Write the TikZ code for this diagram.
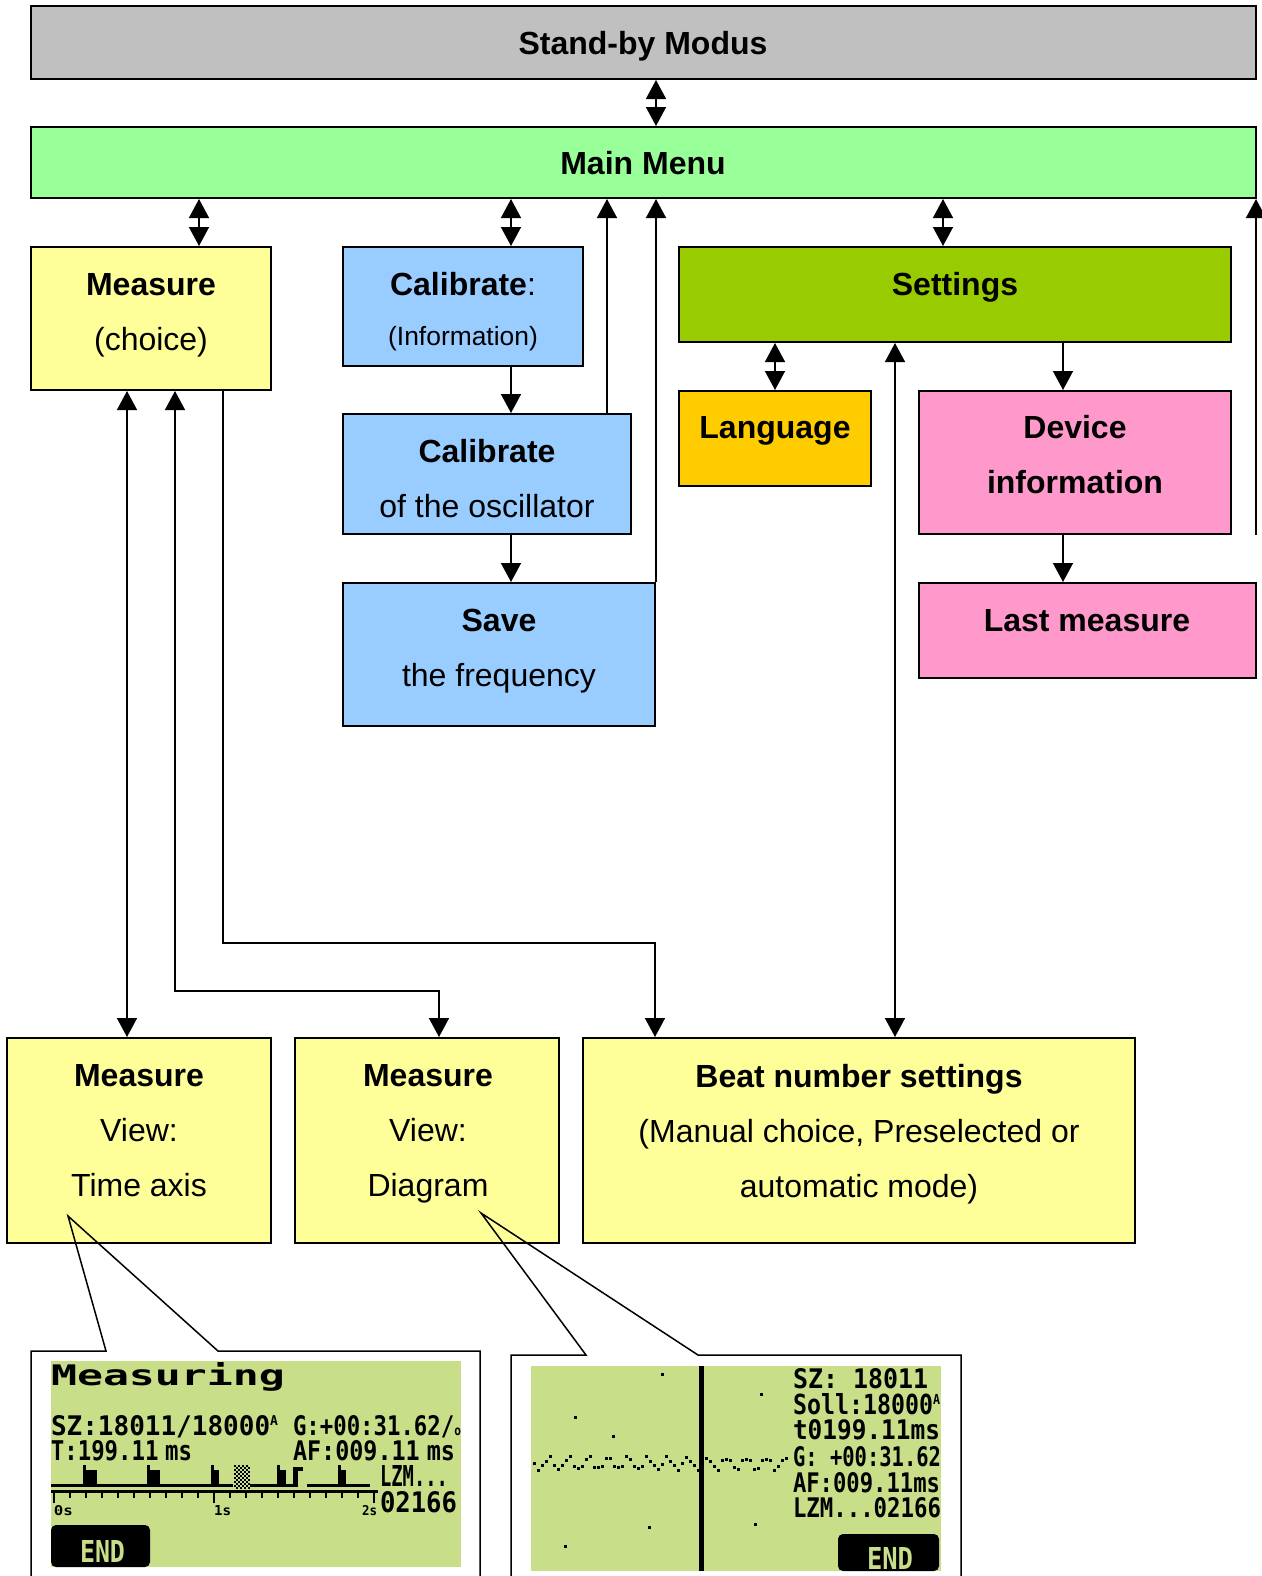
\documentclass[tikz,border=0pt]{standalone}
\usepackage{fontspec}
\setmainfont{Liberation Sans}
\newfontfamily\lcdfont{DejaVu Sans Mono}
\usepackage{graphicx}
\usetikzlibrary{arrows.meta,fit}

\definecolor{sbgrey}{HTML}{C0C0C0}
\definecolor{mmgreen}{HTML}{99FF99}
\definecolor{measyel}{HTML}{FFFF99}
\definecolor{calblue}{HTML}{99CCFF}
\definecolor{setgreen}{HTML}{99CC00}
\definecolor{langorange}{HTML}{FFCC00}
\definecolor{devpink}{HTML}{FF99CC}
\definecolor{lcdgreen}{HTML}{C8DE88}

\newcommand{\boxfont}{\fontsize{16}{27.5}\selectfont}
\newcommand{\lcd}[3]{\resizebox{#1}{#2}{\lcdfont\bfseries #3}}
\newcommand{\supA}{\raisebox{0.36em}{\scalebox{0.5}{A}}}

\begin{document}
\begin{tikzpicture}
        [x=0.5pt,y=-0.5pt,
         box/.style={draw,line width=1pt,inner sep=0pt},
         txt/.style={align=center,font=\boxfont,inner sep=0pt},
         conn/.style={line width=0.75pt},
         lcdtxt/.style={anchor=base west,inner sep=0pt,outer sep=0pt},
         >={Triangle[length=9.5pt,width=10pt]}]
        \useasboundingbox (0,0) rectangle (1262,1576);

        \node[box,fill=sbgrey,fit={(31,6) (1256,79)}] (sb) {};
        \node[box,fill=mmgreen,fit={(31,127) (1256,198)}] (mm) {};
        \node[box,fill=measyel,fit={(31,247) (271,390)}] (meas) {};
        \node[box,fill=calblue,fit={(343,247) (583,366)}] (cal) {};
        \node[box,fill=calblue,fit={(343,414) (631,534)}] (cosc) {};
        \node[box,fill=calblue,fit={(343,583) (655,726)}] (save) {};
        \node[box,fill=setgreen,fit={(679,247) (1231,342)}] (set) {};
        \node[box,fill=langorange,fit={(679,391) (871,486)}] (lang) {};
        \node[box,fill=devpink,fit={(919,391) (1231,534)}] (dev) {};
        \node[box,fill=devpink,fit={(919,583) (1256,678)}] (last) {};
        \node[box,fill=measyel,fit={(7,1038) (271,1243)}] (tview) {};
        \node[box,fill=measyel,fit={(295,1038) (559,1243)}] (dview) {};
        \node[box,fill=measyel,fit={(583,1038) (1135,1243)}] (beat) {};

        \node[txt] (sb-t) at (643,46) {\textbf{Stand-by Modus}};
        \node[txt] (mm-t) at (643,163) {\textbf{Main Menu}};
        \node[txt] (meas-t) at (151,315) {\textbf{Measure}\\(choice)};
        \node[txt] (cal-t) at (463,312) {\textbf{Calibrate}:\\[-2.5pt]{\fontsize{13.2}{15}\selectfont(Information)}};
        \node[txt] (cosc-t) at (487,479) {\textbf{Calibrate}\\of the oscillator};
        \node[txt] (save-t) at (499,651) {\textbf{Save}\\the frequency};
        \node[txt] (set-t) at (955,287) {\textbf{Settings}};
        \node[txt] (lang-t) at (775,431) {\textbf{Language}};
        \node[txt] (dev-t) at (1075,455) {\textbf{Device}\\\textbf{information}};
        \node[txt] (last-t) at (1087,621) {\textbf{Last measure}};
        \node[txt] (tview-t) at (139,1131) {\textbf{Measure}\\View:\\Time axis};
        \node[txt] (dview-t) at (428,1134) {\textbf{Measure}\\View:\\Diagram};
        \node[txt] (beat-t) at (859,1134) {\textbf{Beat number settings}\\(Manual choice, Preselected or\\automatic mode)};

        \coordinate (rend) at (1256,535);
        \coordinate (dvbend) at (300,991);
        \coordinate (bebend) at (400,943);

        \draw[conn,<->] ([xshift=6.25pt]sb.south) -- ([xshift=6.25pt]mm.north);
        \draw[conn,<->] ([xshift=24pt]meas.north) -- ([xshift=24pt]meas.north |- mm.south);
        \draw[conn,<->] ([xshift=24pt]cal.north) -- ([xshift=24pt]cal.north |- mm.south);
        \draw[conn,->] ([xshift=60pt]cosc.north) -- ([xshift=60pt]cosc.north |- mm.south);
        \draw[conn,->] (save.north east) -- (save.north east |- mm.south);
        \draw[conn,<->] ([xshift=-6pt]set.north) -- ([xshift=-6pt]set.north |- mm.south);
        \draw[conn,->] (rend) -- (rend |- mm.south);
        \draw[conn,->] ([xshift=24pt]cal.south) -- ([xshift=24pt]cal.south |- cosc.north);
        \draw[conn,->] ([xshift=12pt]cosc.south) -- ([xshift=12pt]cosc.south |- save.north);
        \draw[conn,<->] (lang.north |- set.south) -- (lang.north);
        \draw[conn,->] ([xshift=-6pt]dev.north |- set.south) -- ([xshift=-6pt]dev.north);
        \draw[conn,->] ([xshift=-6pt]dev.south) -- ([xshift=-6pt]dev.south |- last.north);
        \draw[conn,<->] ([xshift=18pt]beat.north) -- ([xshift=18pt]beat.north |- set.south);
        \draw[conn,<->] ([xshift=-6pt]tview.north) -- ([xshift=-6pt]tview.north |- meas.south);
        \draw[conn,<->] ([xshift=12pt]meas.south) |- (dvbend) -| ([xshift=6pt]dview.north);
        \draw[conn,->] ([xshift=36pt]meas.south) |- (bebend) -| ([xshift=36.5pt]beat.north west);

        \draw[conn] (31,1590) -- (31,1351) -- (106,1351) -- (68,1216) -- (218,1351) -- (480,1351) -- (480,1590);
        \draw[conn] (511,1590) -- (511,1355) -- (586,1355) -- (481,1213) -- (698,1355) -- (961,1355) -- (961,1590);

        \fill[lcdgreen] (51,1361) rectangle (461,1567);
        \node[lcdtxt] (s1-title) at (51,1385) {\lcd{117pt}{11.5pt}{Measuring}};
        \node[lcdtxt] (s1-sz) at (51,1435) {\lcd{113.5pt}{10pt}{SZ:18011/18000\supA}};
        \node[lcdtxt] (s1-g) at (293,1435) {\lcd{84pt}{10pt}{G:+00:31.62/\scalebox{0.5}{o}}};
        \node[lcdtxt] (s1-t) at (51,1460) {\lcd{70.5pt}{10pt}{T:199.11\hspace{0.3em}ms}};
        \node[lcdtxt] (s1-af) at (293,1460) {\lcd{81pt}{10pt}{AF:009.11\hspace{0.3em}ms}};
        \node[lcdtxt] (s1-lzm) at (380,1486) {\lcd{34pt}{10.5pt}{LZM...}};
        \node[lcdtxt] (s1-num) at (380,1512) {\lcd{38.5pt}{10.5pt}{02166}};
        \fill (51,1484) rectangle (233,1487);
        \fill (250,1484) rectangle (297,1487);
        \fill (307,1484) rectangle (370,1487);
        \foreach \i in {0,...,7}
        {\foreach \j in {0,2,...,10}
          {\fill ({234+2*\i},{1465+2*\j+2*mod(\i,2)}) rectangle +(2,2);}}
        \foreach \a/\w in {83/11,147/10,211/5,277/6,338/5}
        {\fill (\a,1465) rectangle (\a+3,1487);
         \fill (\a+3,1470) rectangle (\a+3+\w,1487);}
        \fill (293,1467) rectangle (298,1487);
        \fill (298,1467) rectangle (303,1471);
        \fill (51,1490) rectangle (378,1493);
        \foreach \i in {0,...,20}
        {\fill (53+16*\i,1493) rectangle (55+16*\i,1498);}
        \foreach \x in {53,213,373}
        {\fill (\x,1493) rectangle (\x+2,1503);}
        \node[lcdtxt] (s1-0s) at (54,1515) {\lcd{9.5pt}{5pt}{0s}};
        \node[lcdtxt] (s1-1s) at (214,1515) {\lcd{8.5pt}{5pt}{1s}};
        \node[lcdtxt] (s1-2s) at (362,1515) {\lcd{7.5pt}{5pt}{2s}};
        \fill[rounded corners=2.5pt] (51,1567) -- (51,1525) -- (150,1525) -- (150,1567) -- cycle;
        \node[lcdtxt,text=lcdgreen] (s1-end) at (80,1562) {\lcd{22.5pt}{11pt}{END}};

        \fill[lcdgreen] (531,1366) rectangle (941,1571);
        \foreach \i in {0,...,63}
        {\fill (533+4*\i,{1462+6*sin(\i*73)+2*sin(\i*151)}) rectangle +(3,3);}
        \foreach \p in {(661,1373),(760,1393),(574,1416),(612,1435),(648,1526),(754,1523),(564,1545)}
        {\fill \p rectangle +(3,3);}
        \fill (699,1366) rectangle (704,1571);
        \node[lcdtxt] (s2-sz) at (793,1388) {\lcd{67.5pt}{10pt}{SZ: 18011}};
        \node[lcdtxt] (s2-soll) at (793,1414) {\lcd{73.5pt}{10.5pt}{Soll:18000\supA}};
        \node[lcdtxt] (s2-t) at (793,1439) {\lcd{73.5pt}{10pt}{t0199.11ms}};
        \node[lcdtxt] (s2-g) at (793,1466) {\lcd{74pt}{10pt}{G: +00:31.62}};
        \node[lcdtxt] (s2-af) at (793,1492) {\lcd{73.5pt}{10pt}{AF:009.11ms}};
        \node[lcdtxt] (s2-lzm) at (793,1517) {\lcd{74pt}{10pt}{LZM...02166}};
        \fill[rounded corners=2.5pt] (838,1571) -- (838,1534) -- (939,1534) -- (939,1571) -- cycle;
        \node[lcdtxt,text=lcdgreen] (s2-end) at (867,1569) {\lcd{23pt}{11pt}{END}};
      \end{tikzpicture}
\end{document}
